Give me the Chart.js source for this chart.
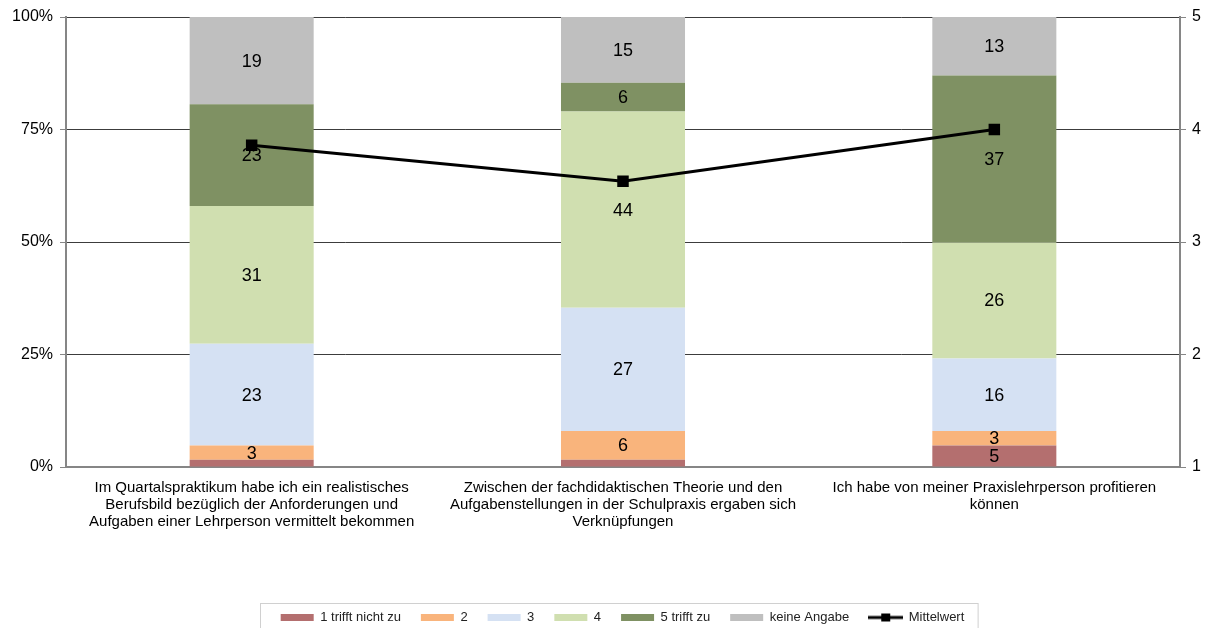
<!DOCTYPE html>
<html>
<head>
<meta charset="utf-8">
<script src="https://cdn.jsdelivr.net/npm/chart.js@4.4.1/dist/chart.umd.min.js"></script>
<style>
  html, body { margin: 0; padding: 0; background: #fff; }
  #wrap { width: 1211px; height: 628px; }
</style>
</head>
<body>
<div id="wrap"><canvas id="chart"></canvas></div>
<script>
// categories (already split into lines like in the original)
const categories = [
  ['Im Quartalspraktikum habe ich ein realistisches', 'Berufsbild bezüglich der Anforderungen und', 'Aufgaben einer Lehrperson vermittelt bekommen'],
  ['Zwischen der fachdidaktischen Theorie und den', 'Aufgabenstellungen in der Schulpraxis ergaben sich', 'Verknüpfungen'],
  ['Ich habe von meiner Praxislehrperson profitieren', 'können']
];

// share of answers in percent
const trifftNichtZu = [1.6, 1.6, 4.8];
const wert2 = [3.2, 6.4, 3.2];
const wert3 = [22.6, 27.4, 16.1];
const wert4 = [30.6, 43.6, 25.8];
const trifftZu = [22.6, 6.4, 37.1];
const keineAngabe = [19.4, 14.6, 13.0];

// mean on the 1..5 scale
const mittelwert = [3.86, 3.54, 4.0];

const percentTicks = [0, 25, 50, 75, 100];
const meanTicks = [1, 2, 3, 4, 5];

const FONT = '"Liberation Sans", Arial, sans-serif';
const AXIS_GREY = '#868686';
const LEGEND_SHIFT = 17; // legend sits a bit right of the canvas centre

// little line+square icon for the Mittelwert legend entry
const lineIcon = document.createElement('canvas');
lineIcon.width = 35;
lineIcon.height = 10;
(function () {
  const c = lineIcon.getContext('2d');
  c.strokeStyle = '#000';
  c.lineWidth = 3;
  c.beginPath();
  c.moveTo(0, 5);
  c.lineTo(35, 5);
  c.stroke();
  c.fillStyle = '#000';
  c.fillRect(13, 1, 9, 8);
})();

// numbers in the middle of each bar segment
const segmentLabels = {
  id: 'segmentLabels',
  afterDatasetsDraw(chart) {
    const ctx = chart.ctx;
    ctx.save();
    ctx.font = '18px ' + FONT;
    ctx.fillStyle = '#000';
    ctx.textAlign = 'center';
    ctx.textBaseline = 'middle';
    chart.data.datasets.forEach((ds, i) => {
      if (ds.type === 'line') return;
      const meta = chart.getDatasetMeta(i);
      meta.data.forEach((bar, j) => {
        const v = ds.data[j];
        if (v < 2) return; // too thin, no label in the original
        const p = bar.getProps(['x', 'y', 'base'], true);
        ctx.fillText(Math.round(v), p.x, (p.y + p.base) / 2 + 1);
      });
    });
    ctx.restore();
  }
};

// move the legend a little and draw a frame around it
const legendFrame = {
  id: 'legendFrame',
  afterLayout(chart) {
    const lg = chart.legend;
    if (!lg) return;
    lg.left += LEGEND_SHIFT;
    lg.right += LEGEND_SHIFT;
  },
  afterDraw(chart) {
    const boxes = chart.legend && chart.legend.legendHitBoxes;
    if (!boxes || !boxes.length) return;
    let left = Infinity, right = -Infinity, top = Infinity, bottom = -Infinity;
    boxes.forEach(b => {
      left = Math.min(left, b.left);
      right = Math.max(right, b.left + b.width);
      top = Math.min(top, b.top);
      bottom = Math.max(bottom, b.top + b.height);
    });
    if (!isFinite(left) || !isFinite(top)) return;
    const ctx = chart.ctx;
    ctx.save();
    ctx.strokeStyle = '#d0d0d0';
    ctx.lineWidth = 1;
    ctx.strokeRect(Math.round(left - 21) + 0.5, Math.round(top - 8) + 0.5, right - left + 34, bottom - top + 30);
    ctx.restore();
  }
};

const seg = (label, data, color) => ({
  type: 'bar',
  label: label,
  data: data,
  backgroundColor: color,
  borderWidth: 0,
  stack: 'antworten',
  yAxisID: 'y',
  order: 1,
  barPercentage: 0.334,
  categoryPercentage: 1
});

new Chart(document.getElementById('chart'), {
  data: {
    labels: categories,
    datasets: [
      seg('1 trifft nicht zu', trifftNichtZu, '#b46f6f'),
      seg('2', wert2, '#f9b47c'),
      seg('3', wert3, '#d5e1f3'),
      seg('4', wert4, '#d0dfb0'),
      seg('5 trifft zu', trifftZu, '#7f9163'),
      seg('keine Angabe', keineAngabe, '#bfbfbf'),
      {
        type: 'line',
        label: 'Mittelwert',
        data: mittelwert,
        yAxisID: 'y1',
        order: 0,
        borderColor: '#000',
        borderWidth: 3,
        backgroundColor: '#000',
        pointStyle: 'rect',
        pointRadius: 6,
        pointHoverRadius: 6,
        pointBackgroundColor: '#000',
        tension: 0
      }
    ]
  },
  options: {
    responsive: true,
    maintainAspectRatio: false,
    animation: false,
    layout: { padding: { top: 17, left: 0, right: 0, bottom: -6 } },
    plugins: {
      tooltip: { enabled: false },
      legend: {
        position: 'bottom',
        labels: {
          sort: (a, b) => a.datasetIndex - b.datasetIndex,
          font: { family: FONT, size: 13 },
          color: '#222',
          usePointStyle: true,
          pointStyleWidth: 33,
          boxHeight: 7,
          padding: 20,
          generateLabels(chart) {
            const items = Chart.defaults.plugins.legend.labels.generateLabels(chart);
            items.forEach(it => {
              it.pointStyle = chart.data.datasets[it.datasetIndex].type === 'line' ? lineIcon : 'rect';
              it.lineWidth = 0;
            });
            return items;
          }
        }
      }
    },
    scales: {
      x: {
        stacked: true,
        grid: { display: false },
        border: { display: true, color: AXIS_GREY, width: 2 },
        ticks: {
          font: { family: FONT, size: 15, lineHeight: 1.13 },
          color: '#000',
          maxRotation: 0,
          autoSkip: false,
          padding: 4
        },
        afterFit(scale) { scale.height = 124; }
      },
      y: {
        stacked: true,
        position: 'left',
        min: 0,
        max: 100,
        afterBuildTicks(scale) { scale.ticks = percentTicks.map(v => ({ value: v })); },
        grid: {
          color: ctx => ctx.tick && ctx.tick.value === 0 ? AXIS_GREY : '#3c3c3c',
          tickColor: AXIS_GREY,
          tickLength: 6
        },
        border: { display: true, color: AXIS_GREY, width: 2 },
        ticks: {
          font: { family: FONT, size: 16 },
          color: '#000',
          padding: 7,
          callback: v => v + '%'
        },
        afterFit(scale) { scale.width = 66; }
      },
      y1: {
        position: 'right',
        min: 1,
        max: 5,
        afterBuildTicks(scale) { scale.ticks = meanTicks.map(v => ({ value: v })); },
        grid: { drawOnChartArea: false, color: AXIS_GREY, tickLength: 6 },
        border: { display: true, color: AXIS_GREY, width: 2 },
        ticks: {
          font: { family: FONT, size: 16 },
          color: '#000',
          padding: 6
        },
        afterFit(scale) { scale.width = 31; }
      }
    }
  },
  plugins: [segmentLabels, legendFrame]
});
</script>
</body>
</html>
